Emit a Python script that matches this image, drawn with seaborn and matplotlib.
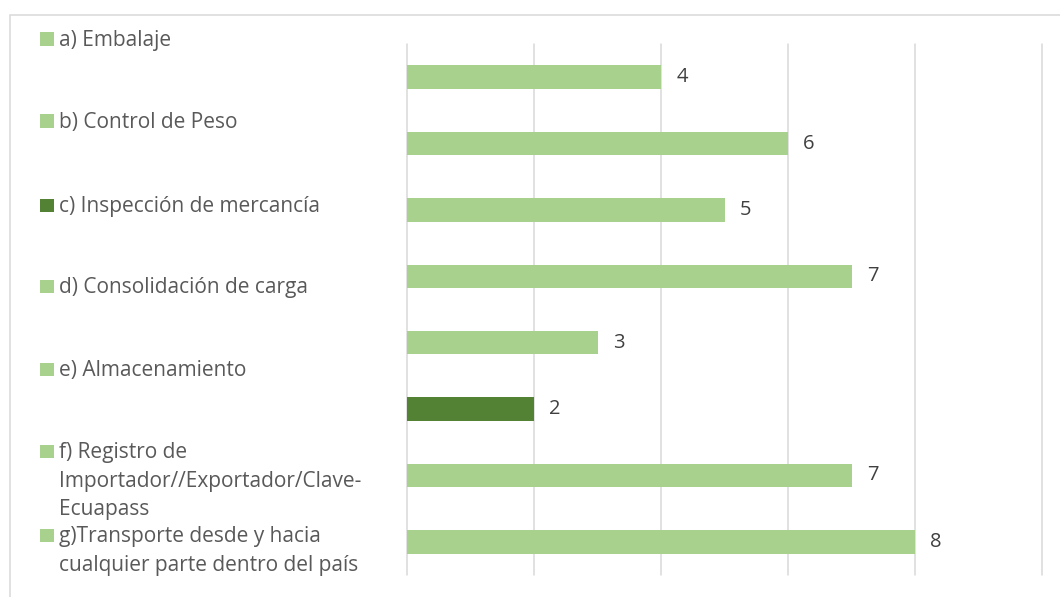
import matplotlib
matplotlib.use("Agg")
import matplotlib.pyplot as plt
from matplotlib.patches import Rectangle
import seaborn as sns
import pandas as pd

# Bars, listed from top to bottom
bar_ids = ["h", "g", "f", "e", "d", "c", "b", "a"]
bar_values = [4, 6, 5, 7, 3, 2, 7, 8]
bar_shades = ["light", "light", "light", "light", "light", "dark", "light", "light"]

# Legend entries (as laid out on the left)
legend_labels = [
    "a) Embalaje",
    "b) Control de Peso",
    "c) Inspección de mercancía",
    "d) Consolidación de carga",
    "e) Almacenamiento",
    "f) Registro de\nImportador//Exportador/Clave-\nEcuapass",
    "g)Transporte desde y hacia\ncualquier parte dentro del país",
]
legend_shades = ["light", "light", "dark", "light", "light", "light", "light"]

SHADE = {"light": "#A9D18E", "dark": "#548235"}
TEXT = "#595959"
GRID = "#D9D9D9"
W, H = 1060, 597

sns.set_theme(style="white")
plt.rcParams["font.family"] = ["Open Sans", "DejaVu Sans"]

fig = plt.figure(figsize=(W / 100, H / 100), dpi=100)
fig.patch.set_facecolor("white")

# chart frame
fig.add_artist(Rectangle((9.5 / W, -0.05), 1.2, 1.05 - 15 / H,
                         transform=fig.transFigure, fill=False,
                         edgecolor=GRID, lw=1.1))

ax = fig.add_axes([407 / W, 1 - 575 / H, (1042 - 407) / W, (575 - 44) / H])

df = pd.DataFrame({"id": bar_ids, "value": bar_values, "shade": bar_shades})
palette = {i: SHADE[s] for i, s in zip(bar_ids, bar_shades)}
sns.barplot(data=df, x="value", y="id", hue="id", palette=palette,
            orient="h", width=0.354, saturation=1, legend=False,
            edgecolor="none", linewidth=0, ax=ax)

ax.set_xlim(0, 10)
ax.set_xticks(range(0, 11, 2))
ax.set_xticklabels([])
ax.set_yticks([])
ax.set_xlabel("")
ax.set_ylabel("")
ax.tick_params(length=0)
ax.xaxis.grid(True, color=GRID, lw=1.1)
for gl in ax.get_xgridlines():
    gl.set_clip_on(False)
ax.set_axisbelow(True)
for s in ax.spines.values():
    s.set_visible(False)
ax.patch.set_alpha(0)

for cont in ax.containers:
    ax.bar_label(cont, fmt="%g", padding=11, fontsize=14.5, color="#404040")

# legend column
baselines = [46, 128, 212, 293, 376, 458, 542]
for lab, shade, yb in zip(legend_labels, legend_shades, baselines):
    fig.add_artist(Rectangle((40 / W, 1 - yb / H), 14 / W, 13.5 / H,
                             transform=fig.transFigure,
                             facecolor=SHADE[shade], edgecolor="none"))
    first, *rest = lab.split("\n")
    fig.text(59 / W, 1 - yb / H, first, fontsize=15, color=TEXT,
             va="baseline", ha="left")
    for k, line in enumerate(rest, start=1):
        fig.text(59 / W, 1 - (yb + 28.5 * k) / H, line, fontsize=15,
                 color=TEXT, va="baseline", ha="left")

fig.savefig("out.png", dpi=100)
